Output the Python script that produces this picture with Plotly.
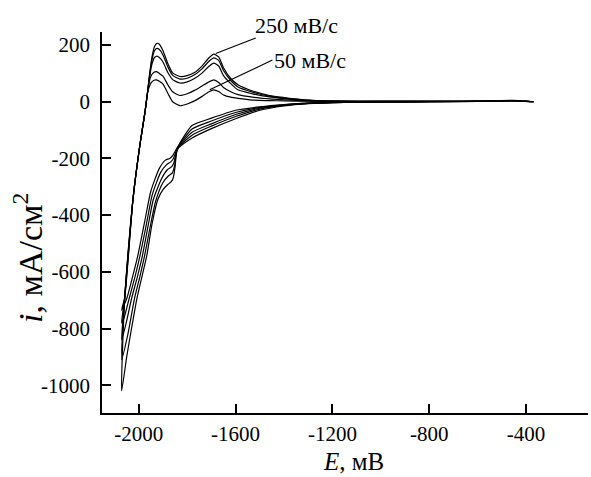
import plotly.graph_objects as go

# ---------------- data ----------------
scan_rates = [250, 200, 150, 100, 50]  # mV/s

# cathodic sweep, common part (from start potential toward negative)
cath_E_common = [-370, -450, -600, -800, -1000, -1200, -1300, -1400, -1500, -1600, -1700, -1780]
cath_i_common = [
    [0, 5, 2, 0, -1, -3, -7, -15, -30, -60, -95, -128],
    [0, 4, 2, 0, -1, -3, -6, -13, -26, -52, -86, -118],
    [0, 4, 2, 0, -1, -3, -6, -12, -23, -45, -78, -108],
    [0, 3, 1, 0, -1, -2, -5, -11, -20, -38, -68, -96],
    [0, 3, 1, 0, -1, -2, -5, -10, -18, -30, -58, -84],
]

# cathodic sweep, shoulder and deposition region (per curve)
cath_E_low = [
    [-1840, -1850, -1858, -1866, -1880, -1900, -1921, -1945, -1967, -1985, -2008, -2030, -2050, -2071],
    [-1840, -1852, -1862, -1878, -1900, -1930, -1955, -1976, -1995, -2018, -2045, -2071],
    [-1840, -1855, -1865, -1882, -1905, -1940, -1962, -1985, -2005, -2030, -2052, -2071],
    [-1840, -1857, -1868, -1885, -1910, -1945, -1968, -1995, -2015, -2040, -2060, -2071],
    [-1840, -1860, -1872, -1890, -1915, -1950, -1975, -2004, -2025, -2050, -2071],
]
cath_i_low = [
    [-168, -230, -270, -282, -292, -310, -344, -430, -543, -610, -695, -800, -900, -1020],
    [-166, -225, -252, -262, -285, -350, -450, -543, -615, -695, -820, -910],
    [-165, -215, -230, -240, -270, -345, -440, -543, -615, -695, -780, -840],
    [-163, -200, -212, -222, -250, -330, -430, -543, -615, -695, -760, -780],
    [-160, -190, -200, -206, -235, -315, -420, -543, -615, -695, -735],
]

# anodic sweep, rising edge (shared by all curves)
anod_E_rise = [-2058, -2024, -1995, -1975, -1965]
anod_i_rise = [-690, -344, -150, -40, 25]

# anodic sweep, first stripping peak (per curve)
anod_E_peak1 = [
    [-1955, -1945, -1935, -1925, -1915, -1900],
    [-1955, -1945, -1935, -1925, -1915, -1900],
    [-1955, -1945, -1935, -1925, -1915, -1900],
    [-1957, -1947, -1937, -1927, -1915, -1900],
    [-1958, -1948, -1937, -1927, -1915, -1900],
]
anod_i_peak1 = [
    [100, 160, 195, 206, 203, 180],
    [95, 150, 180, 188, 184, 165],
    [90, 135, 156, 161, 156, 140],
    [70, 95, 104, 106, 100, 90],
    [50, 68, 76, 77, 72, 62],
]

# anodic sweep, second peak and return to start (common potentials)
anod_E_tail = [-1880, -1860, -1830, -1800, -1770, -1740, -1710, -1690, -1670, -1650, -1620,
               -1590, -1530, -1460, -1400, -1300, -1200, -1000, -800, -600, -450, -370]
anod_i_tail = [
    [135, 102, 89, 92, 103, 125, 155, 168, 158, 120, 82, 60, 38, 22, 15, 6, 2, 1, 1, 2, 4, 0],
    [123, 93, 80, 83, 95, 115, 143, 155, 146, 110, 75, 52, 34, 20, 13, 5, 2, 1, 1, 2, 4, 0],
    [103, 78, 66, 70, 82, 100, 125, 136, 126, 92, 64, 42, 28, 17, 11, 5, 2, 1, 1, 2, 3, 0],
    [60, 35, 22, 28, 40, 55, 70, 77, 68, 50, 35, 25, 16, 10, 7, 3, 1, 1, 1, 2, 3, 0],
    [30, 0, -14, -8, 3, 18, 35, 42, 36, 24, 16, 12, 6, 4, 3, 2, 1, 1, 1, 2, 3, 0],
]

x_tickvals = [-2000, -1600, -1200, -800, -400]
x_ticktext = ["-2000", "-1600", "-1200", "-800", "-400"]
y_tickvals = [200, 0, -200, -400, -600, -800, -1000]
y_ticktext = ["200", "0", "-200", "-400", "-600", "-800", "-1000"]

label_fast = "250 мВ/с"
label_slow = "50 мВ/с"

# ---------------- figure ----------------
FONT = "Liberation Serif, Times New Roman, serif"
fig = go.Figure()

for k, rate in enumerate(scan_rates):
    xs = cath_E_common + cath_E_low[k] + anod_E_rise + anod_E_peak1[k] + anod_E_tail
    ys = cath_i_common[k] + cath_i_low[k] + anod_i_rise + anod_i_peak1[k] + anod_i_tail[k]
    fig.add_trace(go.Scatter(
        x=xs, y=ys, mode="lines", name=f"{rate} мВ/с",
        line=dict(color="black", width=1.2, shape="spline", smoothing=0.6),
        showlegend=False, hoverinfo="skip",
    ))

axis_common = dict(
    showline=True, linecolor="black", linewidth=1.5,
    ticks="inside", ticklen=9, tickwidth=1.5, tickcolor="black",
    showgrid=False, zeroline=False, mirror=False,
    tickfont=dict(family=FONT, size=21, color="black"),
)

fig.update_xaxes(range=[-2152, -144], tickvals=x_tickvals, ticktext=x_ticktext,
                 ticklabelstandoff=1, **axis_common)
fig.update_yaxes(range=[-1098, 246], tickvals=y_tickvals, ticktext=y_ticktext,
                 ticklabelstandoff=6, **axis_common)

fig.update_layout(
    width=591, height=477,
    margin=dict(l=102, r=3, t=32, b=64),
    plot_bgcolor="white", paper_bgcolor="white",
    font=dict(family=FONT, color="black"),
    annotations=[
        dict(text="<i>E</i>, мВ", xref="paper", yref="paper", x=0.5185, y=-0.168,
             xanchor="center", yanchor="bottom", showarrow=False,
             font=dict(family=FONT, size=25, color="black")),
        dict(text="<i>i</i>, мА/см<sup>2</sup>", xref="paper", yref="paper", x=-0.152, y=0.407,
             xanchor="center", yanchor="middle", textangle=-90, showarrow=False,
             font=dict(family=FONT, size=34, color="black")),
        dict(text=label_fast, xref="paper", yref="paper", x=0.401, y=1.016,
             xanchor="center", yanchor="middle", showarrow=False,
             font=dict(family=FONT, size=22, color="black")),
        dict(text=label_slow, xref="paper", yref="paper", x=0.428, y=0.9265,
             xanchor="center", yanchor="middle", showarrow=False,
             font=dict(family=FONT, size=22, color="black")),
    ],
    shapes=[
        dict(type="line", xref="x", yref="y", x0=-1517, y0=225, x1=-1682, y1=170,
             line=dict(color="black", width=1.2)),
        dict(type="line", xref="x", yref="y", x0=-1448, y0=147, x1=-1707, y1=42,
             line=dict(color="black", width=1.2)),
    ],
)

fig.write_html("out.html")
